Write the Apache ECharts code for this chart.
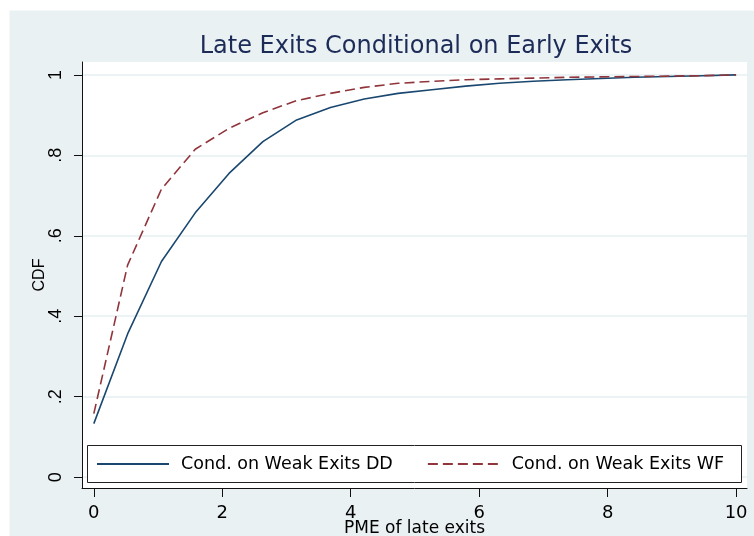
<!DOCTYPE html>
<html>
<head>
<meta charset="utf-8">
<script src="https://cdn.jsdelivr.net/npm/echarts@6/dist/echarts.min.js"></script>
<style>
html,body{margin:0;padding:0;background:#fff;}
#chart{width:754px;height:536px;}
</style>
</head>
<body>
<div id="chart"></div>
<script>
// ---- data ----
const titleText = 'Late Exits Conditional on Early Exits';
const xTitle = 'PME of late exits';
const yTitle = 'CDF';
const seriesNames = ['Cond. on Weak Exits DD', 'Cond. on Weak Exits WF'];
const xValues = [0, 0.526, 1.053, 1.579, 2.105, 2.632, 3.158, 3.684, 4.211, 4.737,
                 5.263, 5.789, 6.316, 6.842, 7.368, 7.895, 8.421, 8.947, 9.474, 10];
const cdfDD = [0.133, 0.356, 0.536, 0.657, 0.755, 0.834, 0.888, 0.919, 0.940, 0.954,
               0.963, 0.972, 0.979, 0.984, 0.988, 0.991, 0.994, 0.996, 0.998, 1.000];
const cdfWF = [0.158, 0.527, 0.716, 0.815, 0.867, 0.906, 0.936, 0.954, 0.969, 0.979,
               0.984, 0.988, 0.990, 0.992, 0.994, 0.995, 0.996, 0.997, 0.998, 1.000];
const xTicks = [0, 2, 4, 6, 8, 10];
const yTicks = [0, 0.2, 0.4, 0.6, 0.8, 1];
const yTickLabels = ['0', '.2', '.4', '.6', '.8', '1'];

const pairs = (xs, ys) => xs.map((x, i) => [x, ys[i]]);

const chart = echarts.init(document.getElementById('chart'), null, {renderer: 'canvas'});
const wide = '"DejaVu Sans", Verdana, sans-serif';
const narrow = '"Liberation Sans", Arial, sans-serif';
const bg = '#eaf1f3';

chart.setOption({
  backgroundColor: '#ffffff',
  animation: false,
  title: {
    text: titleText,
    left: 411, top: 30, textAlign: 'center',
    textStyle: {fontFamily: wide, fontSize: 24, fontWeight: 'normal', color: '#1c2b57'}
  },
  graphic: [
    {type: 'rect', z: -10, silent: true,
     shape: {x: 9.5, y: 10.5, width: 760, height: 540},
     style: {fill: bg}},
    {type: 'text', z: -9, silent: true, x: 300, y: -23,
     style: {text: 'y', font: 'bold 24px "Liberation Serif", serif', fill: '#000'}},
    {type: 'text', z: -9, silent: true, x: 409, y: -23,
     style: {text: 'g', font: 'bold 24px "Liberation Serif", serif', fill: '#000'}},
    {type: 'rect', z: 50, silent: true,
     shape: {x: 87.5, y: 445.5, width: 654, height: 37},
     style: {fill: '#fff', stroke: '#222', lineWidth: 1}}
  ],
  legend: {
    z: 60,
    left: 96, top: 455,
    itemWidth: 72, itemHeight: 18, itemGap: 34,
    padding: 0,
    itemStyle: {opacity: 0},
    textStyle: {fontFamily: wide, fontSize: 17.5, color: '#000', padding: [0, 0, 0, 7]},
    data: seriesNames
  },
  grid: {
    left: 82, right: 7, top: 62, bottom: 48,
    outerBoundsMode: 'none', containLabel: false,
    show: true, backgroundColor: '#ffffff', borderWidth: 0
  },
  xAxis: {
    type: 'value', min: -0.184, max: 10.17,
    name: xTitle, nameLocation: 'middle', nameGap: 32, nameMoveOverlap: false,
    nameTextStyle: {fontFamily: wide, fontSize: 17, color: '#000'},
    axisLine: {show: true, onZero: false, lineStyle: {color: '#111', width: 1}},
    axisTick: {show: true, length: 9, customValues: xTicks, lineStyle: {color: '#111'}},
    axisLabel: {customValues: xTicks, fontFamily: wide, fontSize: 18, color: '#000', margin: 16},
    splitLine: {show: false}
  },
  yAxis: {
    type: 'value', min: -0.027, max: 1.032,
    name: yTitle, nameLocation: 'middle', nameGap: 34, nameRotate: 90, nameMoveOverlap: false,
    nameTextStyle: {fontFamily: narrow, fontSize: 16, color: '#000'},
    axisLine: {show: true, onZero: false, lineStyle: {color: '#111', width: 1}},
    axisTick: {show: true, length: 8, customValues: yTicks, lineStyle: {color: '#111'}},
    axisLabel: {
      customValues: yTicks, rotate: 90, fontFamily: narrow, fontSize: 18, color: '#000', margin: 17,
      formatter: v => { const i = yTicks.findIndex(t => Math.abs(t - v) < 1e-9); return i >= 0 ? yTickLabels[i] : ''; }
    },
    splitLine: {show: true, lineStyle: {color: '#e6eff1', width: 1.5}}
  },
  series: [
    {name: seriesNames[0], type: 'line', data: pairs(xValues, cdfDD),
     symbol: 'none', z: 3,
     lineStyle: {color: '#1a476f', width: 1.6},
     itemStyle: {color: '#1a476f'}},
    {name: seriesNames[1], type: 'line', data: pairs(xValues, cdfWF),
     symbol: 'none', z: 3,
     lineStyle: {color: '#90353b', width: 1.6, type: [10, 5]},
     itemStyle: {color: '#90353b'}}
  ]
});
</script>
</body>
</html>
